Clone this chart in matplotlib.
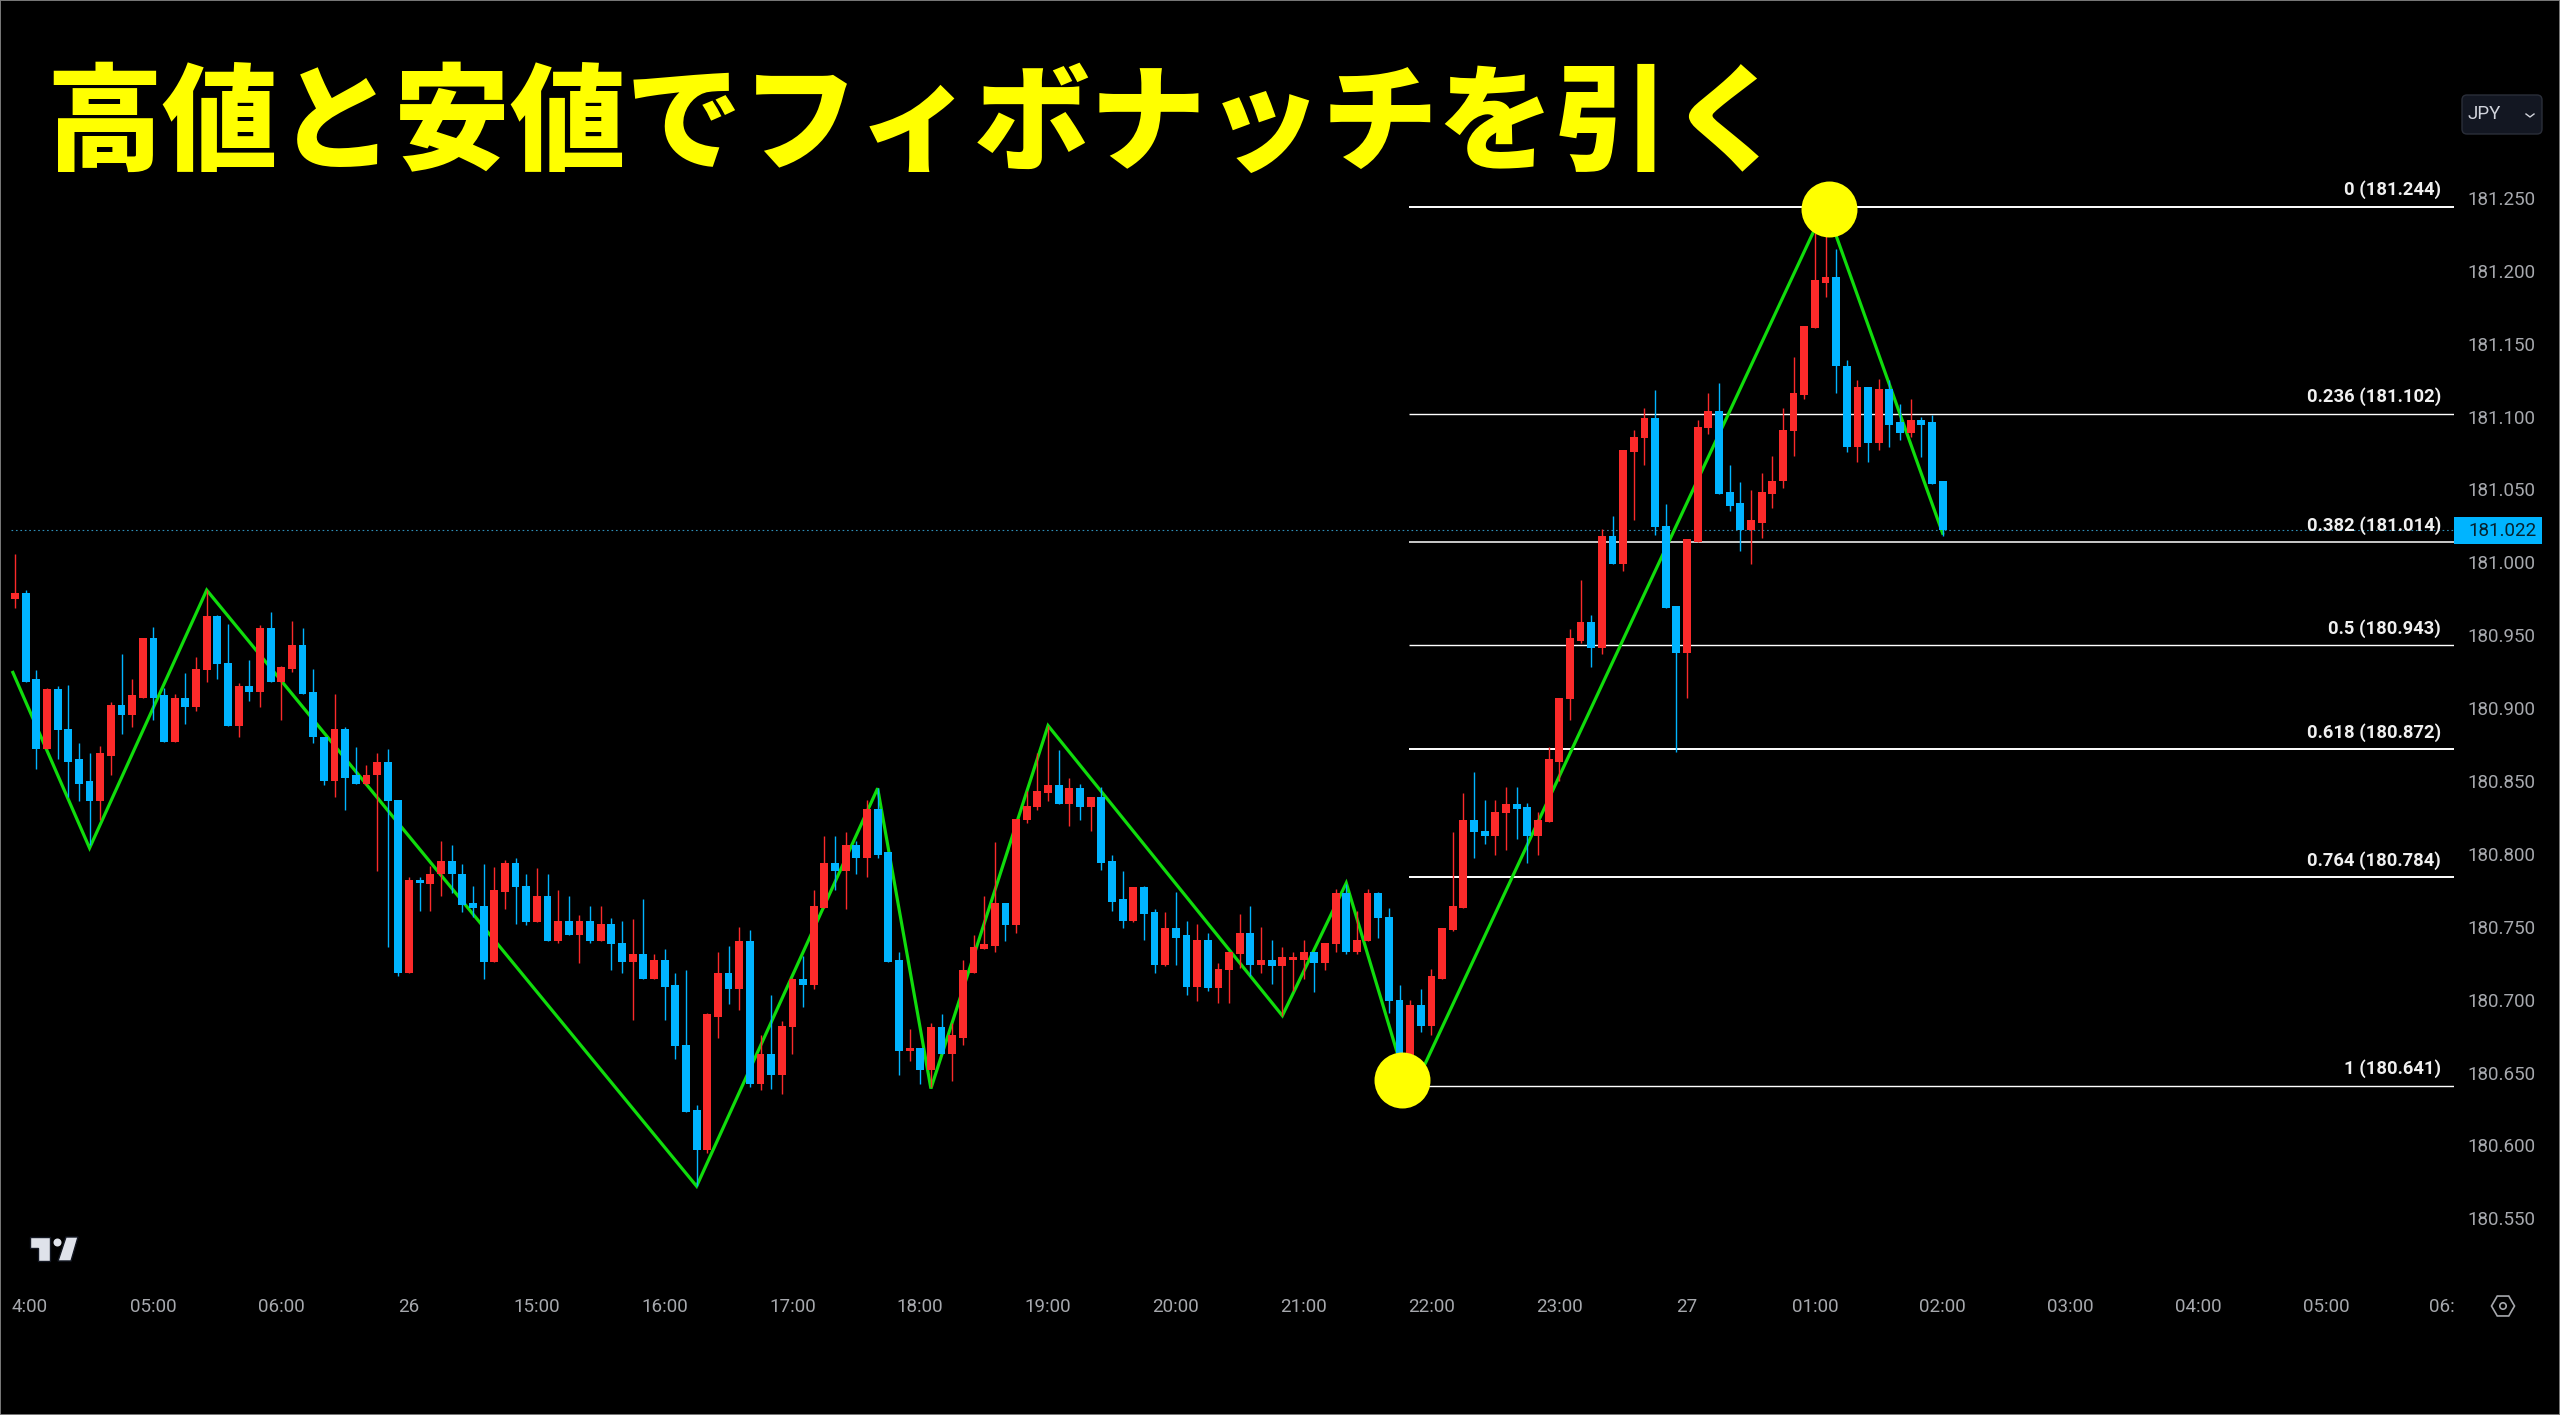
import matplotlib
matplotlib.use('Agg')
import matplotlib.pyplot as plt
import numpy as np
from matplotlib.patches import Rectangle, Polygon, Circle, RegularPolygon, FancyBboxPatch
from matplotlib.lines import Line2D
from matplotlib.transforms import Affine2D

plt.rcParams['font.family'] = ['Roboto', 'DejaVu Sans']

opens = [180.975,180.979,180.920,180.872,180.913,180.886,180.865,180.850,180.836,180.867,
180.902,180.895,180.907,180.948,180.909,180.877,180.907,180.901,180.926,180.963,
180.931,180.888,180.915,180.911,180.955,180.918,180.927,180.943,180.911,180.880,
180.850,180.886,180.854,180.848,180.854,180.863,180.837,180.718,180.782,180.779,
180.786,180.795,180.786,180.766,180.764,180.726,
180.774,180.794,180.778,180.753,180.771,180.740,180.754,180.744,180.754,180.740,
180.752,180.739,180.726,180.731,180.714,180.727,180.710,180.669,180.624,180.597,
180.688,180.718,180.707,180.740,180.642,180.663,180.648,180.681,180.714,180.710,
180.763,180.794,180.788,180.806,180.797,180.831,180.801,180.727,180.665,180.667,
180.652,180.681,180.663,180.674,180.718,
180.735,180.737,180.766,180.751,180.823,180.832,180.842,180.847,180.834,
180.845,180.832,180.839,180.795,180.769,180.754,180.777,180.760,180.724,180.749,
180.744,180.709,180.741,180.708,180.720,180.731,180.746,180.724,180.727,180.723,
180.727,180.727,180.733,180.725,180.738,180.773,180.733,180.740,180.773,180.757,
180.700,180.637,180.696,180.682,180.714,180.748,
180.763,180.823,180.816,180.812,180.828,180.834,180.832,180.812,180.822,180.863,
180.906,180.946,180.959,180.941,181.018,180.999,181.076,181.085,181.099,181.025,
180.970,180.938,181.014,181.092,181.104,181.048,181.041,181.022,181.027,181.047,
181.056,181.090,181.115,181.161,181.192,181.196,181.135,181.079,181.120,181.082,
181.119,181.096,181.089,181.098,181.096,181.056]

closes = [180.979,180.918,180.872,180.913,180.885,180.863,180.848,180.836,180.869,180.902,
180.895,180.909,180.948,180.907,180.877,180.907,180.901,180.927,180.963,180.930,
180.888,180.915,180.911,180.955,180.918,180.928,180.943,180.910,180.880,180.850,
180.886,180.852,180.848,180.854,180.863,180.836,180.718,180.782,180.780,180.786,
180.795,180.786,180.765,180.763,180.726,180.775,
180.794,180.777,180.753,180.771,180.740,180.754,180.744,180.754,180.740,180.752,
180.738,180.726,180.731,180.714,180.727,180.709,180.668,180.623,180.597,180.690,
180.718,180.707,180.740,180.642,180.663,180.648,180.682,180.714,180.710,180.764,
180.794,180.788,180.806,180.797,180.831,180.799,180.726,180.665,180.667,180.652,
180.681,180.663,180.676,180.720,180.736,
180.738,180.766,180.751,180.824,180.833,180.843,180.847,180.834,180.845,
180.832,180.839,180.794,180.767,180.754,180.777,180.759,180.724,180.749,180.742,
180.709,180.741,180.708,180.721,180.733,180.746,180.724,180.727,180.723,180.729,
180.729,180.733,180.725,180.739,180.773,180.733,180.741,180.773,180.756,180.699,
180.637,180.696,180.682,180.716,180.749,180.764,
180.823,180.815,180.812,180.829,180.834,180.831,180.812,180.823,180.865,180.907,
180.948,180.959,180.941,181.018,180.999,181.077,181.086,181.099,181.024,180.969,
180.938,181.016,181.093,181.104,181.047,181.039,181.022,181.029,181.048,181.056,
181.091,181.116,181.162,181.194,181.196,181.135,181.079,181.120,181.082,181.119,
181.094,181.089,181.098,181.094,181.054,181.022]

highs = [181.006,180.981,180.926,180.914,180.915,180.916,180.876,180.869,180.874,180.904,
180.937,180.920,180.948,180.956,180.914,180.910,180.924,180.935,180.981,180.964,
180.958,180.917,180.933,180.957,180.966,180.929,180.960,180.955,180.927,180.880,
180.910,180.887,180.873,180.861,180.869,180.872,180.837,180.784,180.784,180.792,
180.809,180.806,180.793,180.778,180.793,180.791,
180.796,180.797,180.786,180.790,180.786,180.775,180.771,180.758,180.764,180.764,
180.756,180.754,180.755,180.769,180.731,180.735,180.718,180.720,180.628,180.691,
180.733,180.737,180.750,180.748,180.676,180.703,180.685,180.715,180.730,180.775,
180.812,180.812,180.815,180.809,180.837,180.845,180.801,180.733,180.680,180.667,
180.684,180.690,180.684,180.727,180.744,
180.771,180.808,180.766,180.824,180.843,180.869,180.888,180.871,180.852,
180.848,180.839,180.846,180.799,180.788,180.777,180.778,180.762,180.760,180.774,
180.754,180.752,180.746,180.725,180.733,180.759,180.764,180.750,180.741,180.736,
180.733,180.741,180.733,180.739,180.776,180.779,180.761,180.776,180.774,180.763,
180.710,180.700,180.707,180.721,180.749,180.815,
180.842,180.856,180.837,180.837,180.846,180.846,180.835,180.829,180.873,180.907,
180.954,180.988,180.964,181.023,181.032,181.077,181.091,181.106,181.118,181.040,
180.970,181.016,181.098,181.116,181.123,181.067,181.055,181.050,181.061,181.073,
181.106,181.141,181.162,181.226,181.238,181.215,181.139,181.125,181.120,181.126,
181.125,181.109,181.112,181.100,181.101,181.056]

lows = [180.969,180.918,180.858,180.872,180.865,180.839,180.836,180.806,180.823,180.854,
180.882,180.887,180.907,180.892,180.877,180.877,180.889,180.898,180.918,180.920,
180.888,180.880,180.905,180.901,180.918,180.892,180.925,180.910,180.876,180.847,
180.839,180.830,180.848,180.847,180.788,180.736,180.716,180.718,180.761,180.761,
180.771,180.773,180.760,180.757,180.714,180.726,
180.762,180.752,180.751,180.753,180.740,180.739,180.744,180.725,180.739,180.740,
180.720,180.718,180.686,180.714,180.714,180.686,180.659,180.623,180.572,180.595,
180.674,180.697,180.693,180.640,180.638,180.639,180.635,180.663,180.695,180.707,
180.763,180.775,180.762,180.786,180.784,180.797,180.726,180.648,180.658,180.642,
180.640,180.663,180.644,180.669,180.718,
180.735,180.733,180.740,180.746,180.821,180.830,180.836,180.834,180.819,
180.823,180.816,180.789,180.761,180.749,180.753,180.741,180.718,180.723,180.724,
180.703,180.699,180.706,180.698,180.698,180.722,180.716,180.718,180.711,180.689,
180.706,180.714,180.705,180.720,180.733,180.731,180.731,180.740,180.742,180.691,
180.630,180.634,180.678,180.676,180.714,180.747,
180.763,180.797,180.807,180.799,180.803,180.810,180.794,180.799,180.822,180.850,
180.892,180.945,180.928,180.937,180.999,180.994,181.029,181.067,181.019,180.969,
180.870,180.907,181.014,181.088,181.047,181.035,181.008,180.999,181.017,181.037,
181.051,181.073,181.112,181.161,181.182,181.116,181.076,181.069,181.069,181.077,
181.079,181.084,181.086,181.072,181.054,181.018]

zigzag_idx = [-0.2, 7, 18, 64, 81, 86, 97, 119, 125, 131, 170, 181]
zigzag_price = [180.9245, 180.804, 180.981, 180.572, 180.845, 180.639, 180.888, 180.689, 180.780, 180.634, 181.2445, 181.020]

fib_ratio = ['0', '0.236', '0.382', '0.5', '0.618', '0.764', '1']
fib_price = [181.244, 181.102, 181.014, 180.943, 180.872, 180.784, 180.641]
fib_width = [1.4, 1.0, 1.1, 1.0, 1.4, 1.4, 1.0]

marker_idx = [170.3, 130.2]
marker_price = [181.2424, 180.645]

last_price = 181.022
price_ticks = [180.55, 180.60, 180.65, 180.70, 180.75, 180.80, 180.85, 180.90, 180.95,
               181.00, 181.05, 181.10, 181.15, 181.20, 181.25]
time_ticks = [1.4, 13, 25, 37, 49, 61, 73, 85, 97, 109, 121, 133, 145, 157, 169, 181, 193, 205, 217, 227.9]
time_labels = ['4:00', '05:00', '06:00', '26', '15:00', '16:00', '17:00', '18:00', '19:00', '20:00',
               '21:00', '22:00', '23:00', '27', '01:00', '02:00', '03:00', '04:00', '05:00', '06:']
title = '高値と安値でフィボナッチを引く'

RED = '#fb2a2a'
BLUE = '#00b4ff'
GREEN = '#10dc0c'
YELLOW = '#ffff00'
GREY = '#a6a8ad'

W, H = 2560, 1415
fig = plt.figure(figsize=(W / 100, H / 100), dpi=100, facecolor='black')
px = Affine2D().scale(1, -1).translate(0, H)

# plot area runs from the left edge to the price scale, time scale below it
plot_bottom = 1285
scale = 1457.5
ax = fig.add_axes([0, 1 - plot_bottom / H, 2454 / W, plot_bottom / H], facecolor='black')
ax.set_xlim(-15 / 10.65, (2454 - 15) / 10.65)
ax.set_ylim(181.25 - (plot_bottom - 198) / scale, 181.25 + 198 / scale)
for s in ax.spines.values():
    s.set_visible(False)

idx = np.arange(len(opens))
o, c, hi, lo = map(np.array, (opens, closes, highs, lows))
colors = [RED if a >= b else BLUE for a, b in zip(c, o)]

ax.plot([-0.4, 229], [last_price, last_price], color='#2f8fb8', lw=0.8, ls=(0, (1.5, 2.5)), zorder=1)
ax.hlines(fib_price, 130.9, 229, color='white', lw=fib_width, zorder=1.5)
ax.plot(zigzag_idx, zigzag_price, color=GREEN, lw=2.3, zorder=2, solid_joinstyle='miter')
ax.vlines(idx, lo, hi, color=colors, lw=1.0, zorder=3)
ax.bar(idx, c - o, bottom=o, width=0.74, color=colors, linewidth=0, zorder=3)
ax.plot(marker_idx, marker_price, 'o', color=YELLOW, ms=40.3, mew=0, zorder=5)

for r, p in zip(fib_ratio, fib_price):
    ax.annotate(f'{r} ({p:.3f})', xy=(227.8, p), xytext=(0, 12), textcoords='offset points',
                ha='right', va='center', color='#f0f0f0', fontsize=13.2, fontweight='bold', zorder=4)

ax.yaxis.tick_right()
ax.set_yticks(price_ticks)
ax.set_yticklabels([f'{v:.3f}' for v in price_ticks])
ax.set_xticks(time_ticks)
ax.set_xticklabels(time_labels)
ax.tick_params(axis='y', length=0, pad=10, labelsize=13.5, labelcolor=GREY)
ax.tick_params(axis='x', length=0, pad=9, labelsize=13.5, labelcolor=GREY)
for t in ax.get_yticklabels():
    t.set_ha('left')

# last price tag
fig.add_artist(Rectangle((2454, 517), 88, 26.5, transform=px, fc=BLUE, ec='none'))
fig.text(2468 / W, 1 - 530.5 / H, f'{last_price:.3f}', color='#06222e', fontsize=13.5, va='center', ha='left')

# currency button
fig.add_artist(FancyBboxPatch((2465, 98), 74, 33, boxstyle='round,pad=3,rounding_size=5', transform=px,
                              fc='#131722', ec='#2a2e39', lw=1))
fig.text(2467 / W, 1 - 114 / H, 'JPY', color='#d1d4dc', fontsize=13.5, va='center', ha='left')
fig.add_artist(Line2D([2526, 2530, 2534], [114, 117, 114], transform=px, color='#d1d4dc', lw=1))

# gear
fig.add_artist(RegularPolygon((2503, 1306), 6, radius=11.5, orientation=np.pi / 2, transform=px, fc='none', ec=GREY, lw=1.2))
fig.add_artist(Circle((2503, 1306), 3.2, transform=px, fc='none', ec=GREY, lw=1.2))

# TradingView mark
LOGO = '#dfe2ea'
fig.add_artist(Polygon([(30, 1237), (50, 1237), (50, 1261), (38, 1261), (38, 1248), (30, 1248)],
                       transform=px, fc=LOGO, ec='#131722', lw=1))
fig.add_artist(Polygon([(66, 1237), (78, 1237), (71, 1261), (58, 1261)], transform=px, fc=LOGO, ec='#131722', lw=1))
fig.add_artist(Circle((57.5, 1242.5), 4, transform=px, fc=LOGO, ec='none'))

fig.text(46 / W, 1 - 161 / H, title, color=YELLOW, fontsize=83.5, fontweight='black',
         family=['Noto Sans CJK JP', 'DejaVu Sans'], ha='left', va='baseline')

fig.add_artist(Rectangle((0, 0), 1, 1, transform=fig.transFigure, fill=False, ec='#7a7a7a', lw=1.4))

fig.savefig('out.png', dpi=100, facecolor='black')
